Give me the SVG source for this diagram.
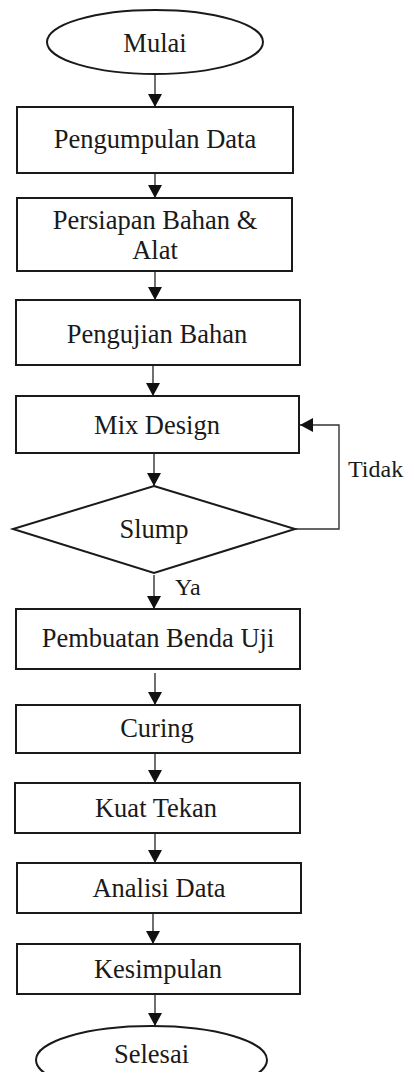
<svg xmlns="http://www.w3.org/2000/svg" width="406" height="1072" viewBox="0 0 406 1072">
<style>
.box{fill:#fff;stroke:#1a1a1a;stroke-width:2}
.t{font-family:"Liberation Serif","Times New Roman",serif;font-size:26.5px;fill:#1a1a1a;text-anchor:middle}
.lbl{font-family:"Liberation Serif","Times New Roman",serif;font-size:24px;fill:#1a1a1a}
.c{fill:none;stroke:#333;stroke-width:1.4}
</style>
<defs>
<marker id="ah" markerWidth="13" markerHeight="14" refX="13" refY="7" orient="auto" markerUnits="userSpaceOnUse">
<path d="M0,0 L13,7 L0,14 Z" fill="#111"/>
</marker>
</defs>
<rect width="406" height="1072" fill="#fff"/>
<g id="connectors">
<line class="c" x1="155" y1="74" x2="155" y2="107" marker-end="url(#ah)"/>
<line class="c" x1="155" y1="173" x2="155" y2="198" marker-end="url(#ah)"/>
<line class="c" x1="155" y1="271" x2="155" y2="300" marker-end="url(#ah)"/>
<line class="c" x1="153" y1="365" x2="153" y2="396" marker-end="url(#ah)"/>
<line class="c" x1="154" y1="453" x2="154" y2="486" marker-end="url(#ah)"/>
<polyline class="c" points="295,529 339,529 339,425 300,425" marker-end="url(#ah)"/>
<line class="c" x1="154" y1="575" x2="154" y2="609" marker-end="url(#ah)"/>
<line class="c" x1="155" y1="673" x2="155" y2="705" marker-end="url(#ah)"/>
<line class="c" x1="155" y1="753" x2="155" y2="783" marker-end="url(#ah)"/>
<line class="c" x1="155" y1="833" x2="155" y2="863" marker-end="url(#ah)"/>
<line class="c" x1="153" y1="913" x2="153" y2="944" marker-end="url(#ah)"/>
<line class="c" x1="155" y1="994" x2="155" y2="1026" marker-end="url(#ah)"/>
<text class="lbl" x="348" y="477">Tidak</text>
<text class="lbl" x="175" y="595">Ya</text>
</g>
<g id="mulai">
<ellipse class="box" cx="155" cy="42" rx="108" ry="32"/>
<text class="t" x="155" y="52">Mulai</text>
</g>
<g id="pengumpulan">
<rect class="box" x="17" y="107" width="276" height="66"/>
<text class="t" x="155" y="148">Pengumpulan Data</text>
</g>
<g id="persiapan">
<rect class="box" x="17" y="198" width="275" height="73"/>
<text class="t" x="155" y="229">Persiapan Bahan &amp;</text>
<text class="t" x="155" y="259">Alat</text>
</g>
<g id="pengujian">
<rect class="box" x="16" y="300" width="284" height="65"/>
<text class="t" x="157" y="343">Pengujian Bahan</text>
</g>
<g id="mixdesign">
<rect class="box" x="16" y="396" width="283" height="57"/>
<text class="t" x="157" y="434">Mix Design</text>
</g>
<g id="slump">
<polygon class="box" points="154,486 295,529 154,573 13,529"/>
<text class="t" x="154" y="538">Slump</text>
</g>
<g id="pembuatan">
<rect class="box" x="16" y="609" width="284" height="60"/>
<text class="t" x="158" y="647">Pembuatan Benda Uji</text>
</g>
<g id="curing">
<rect class="box" x="16" y="705" width="284" height="48"/>
<text class="t" x="157" y="737">Curing</text>
</g>
<g id="kuattekan">
<rect class="box" x="15" y="783" width="285" height="50"/>
<text class="t" x="156" y="817">Kuat Tekan</text>
</g>
<g id="analisi">
<rect class="box" x="17" y="863" width="284" height="50"/>
<text class="t" x="159" y="897">Analisi Data</text>
</g>
<g id="kesimpulan">
<rect class="box" x="17" y="944" width="283" height="50"/>
<text class="t" x="158" y="978">Kesimpulan</text>
</g>
<g id="selesai">
<ellipse class="box" cx="151.5" cy="1060" rx="115.5" ry="34"/>
<text class="t" x="151.5" y="1063">Selesai</text>
</g>
</svg>
